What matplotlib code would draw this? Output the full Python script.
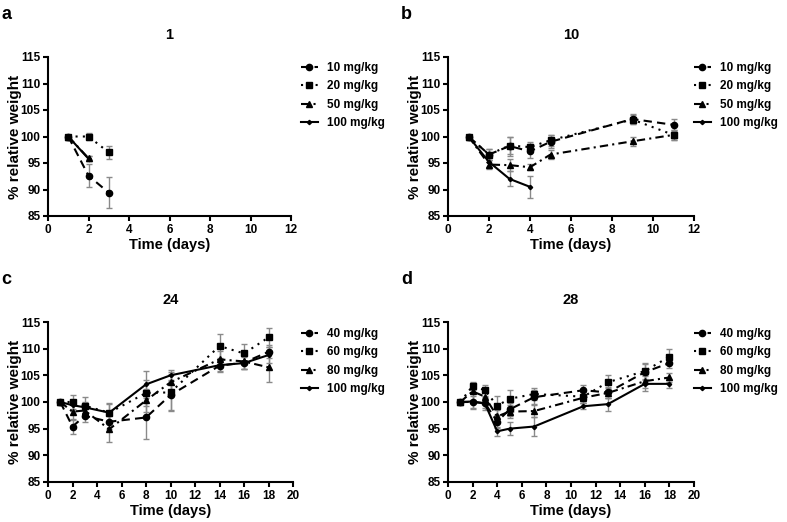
import matplotlib
matplotlib.use("Agg")
import matplotlib.pyplot as plt

plt.rcParams["font.family"] = ["Liberation Sans", "DejaVu Sans"]
plt.rcParams["font.weight"] = "bold"

# panel a: 1
days_a = [1, 2, 3]
a_10 = [100, 92.6, 89.4]
a_10_err = [0, 2.2, 2.9]
a_20 = [100, 100.0, 97.0]
a_20_err = [0, 0.6, 1.2]
days_a50 = [1, 2]
a_50 = [100, 95.9]
a_50_err = [0, 0.5]
a_100 = [100, 95.8]
a_100_err = [0, 0.5]

# panel b: 10
days_b = [1, 2, 3, 4, 5, 9, 11]
b_10 = [100, 96.6, 98.2, 97.2, 99.0, 103.3, 102.2]
b_10_err = [0, 1.1, 1.8, 1.3, 1.2, 1.0, 1.1]
b_20 = [100, 96.6, 98.3, 98.0, 99.3, 103.2, 100.3]
b_20_err = [0, 1.0, 1.6, 1.0, 1.0, 0.9, 0.9]
b_50 = [100, 94.7, 94.6, 94.2, 96.6, 99.1, 100.3]
b_50_err = [0, 0.8, 1.2, 0.6, 0.9, 0.8, 0.9]
days_b100 = [1, 2, 3, 4]
b_100 = [100, 95.2, 92.0, 90.5]
b_100_err = [0, 0.9, 1.4, 2.1]

# panel c: 24
days_c = [1, 2, 3, 5, 8, 10, 14, 16, 18]
c_40 = [100, 95.4, 97.4, 96.3, 97.1, 101.3, 106.8, 107.4, 109.4]
c_40_err = [0, 1.4, 1.2, 1.3, 4.0, 2.8, 1.2, 1.3, 1.2]
c_60 = [100, 100.0, 99.3, 98.0, 101.7, 101.8, 110.5, 109.1, 112.1]
c_60_err = [0, 1.4, 1.7, 1.8, 2.5, 3.5, 2.2, 1.8, 1.8]
c_80 = [100, 98.2, 98.4, 94.9, 100.3, 103.7, 108.0, 107.6, 106.5]
c_80_err = [0, 1.5, 1.2, 2.4, 2.2, 2.0, 1.5, 1.4, 2.7]
c_100 = [100, 99.4, 99.0, 98.0, 103.3, 105.0, 106.9, 107.3, 108.8]
c_100_err = [0, 1.0, 1.0, 1.6, 2.5, 1.0, 1.0, 1.2, 1.5]

# panel d: 28
days_d = [1, 2, 3, 4, 5, 7, 11, 13, 16, 18]
d_40 = [100, 100.0, 99.8, 96.3, 98.6, 100.9, 102.2, 101.8, 105.6, 107.3]
d_40_err = [0, 1.2, 1.0, 1.2, 1.2, 1.3, 1.0, 1.0, 1.5, 1.0]
d_60 = [100, 103.0, 102.2, 99.3, 100.6, 101.5, 101.0, 103.7, 105.8, 108.5]
d_60_err = [0, 0.8, 1.0, 1.8, 1.6, 1.2, 1.2, 1.4, 1.5, 1.4]
d_80 = [100, 102.0, 101.0, 97.3, 98.2, 98.3, 100.8, 101.7, 103.9, 104.6]
d_80_err = [0, 1.6, 1.2, 1.2, 1.2, 1.2, 1.0, 1.0, 1.2, 0.8]
d_100 = [100, 100.1, 99.7, 94.5, 95.0, 95.4, 99.2, 99.6, 103.4, 103.4]
d_100_err = [0, 1.5, 1.2, 0.8, 1.2, 1.7, 0.6, 1.2, 1.4, 0.8]

styles = [
    dict(marker="o", ms=4.5, dashes=(4, 2.5)),
    dict(marker="s", ms=4.5, dashes=(1, 2.5)),
    dict(marker="^", ms=4.5, dashes=(4, 2, 1, 2)),
    dict(marker="D", ms=2.2, dashes=None),
]

fig = plt.figure(figsize=(7.87, 5.22), dpi=100)
W, H = 787, 522


def make_ax(x0, y0, x1, y1):
    return fig.add_axes([x0 / W, 1 - y1 / H, (x1 - x0) / W, (y1 - y0) / H])


def draw(ax, series, labels, xmax, title, letter, leg_x, leg_y):
    for (x, y, e), lab, st in zip(series, labels, styles):
        line, caps, bars = ax.errorbar(x, y, yerr=e, color="black", ecolor="#8a8a8a",
                                       elinewidth=1, capsize=2.5, capthick=1, lw=1.5,
                                       marker=st["marker"], ms=st["ms"], label=lab)
        if st["dashes"]:
            line.set_dashes(st["dashes"])
    ax.set_xlim(0, xmax)
    ax.set_ylim(85, 115)
    ax.set_xticks(range(0, xmax + 1, 2))
    ax.set_yticks(range(85, 116, 5))
    for s in ["top", "right"]:
        ax.spines[s].set_visible(False)
    for s in ["left", "bottom"]:
        ax.spines[s].set_linewidth(1.5)
    ax.tick_params(width=1.5, length=3.5, labelsize=8.5, pad=2)
    for t in ax.get_xticklabels() + ax.get_yticklabels():
        t.set_fontweight("bold")
    ax.set_xlabel("Time (days)", fontsize=10.5, fontweight="bold", labelpad=2)
    ax.set_ylabel("% relative weight", fontsize=11, fontweight="bold", labelpad=-1)
    ax.set_title(title, fontsize=10.5, fontweight="bold", pad=13)
    ax.text(-0.19, 1.32, letter, transform=ax.transAxes, fontsize=13,
            fontweight="bold", va="top", ha="left")
    handles, labs = ax.get_legend_handles_labels()
    handles = [h[0] for h in handles]
    # legend text starts at leg_x px, first row top at leg_y px
    ax.legend(handles, labs, loc="upper left",
              bbox_to_anchor=((leg_x - 26) / W, 1 - leg_y / H),
              bbox_transform=fig.transFigure, borderaxespad=0, borderpad=0,
              frameon=False, handlelength=1.4, handletextpad=0.8,
              labelspacing=0.55, prop=dict(weight="bold", size=8.5))


ax_a = make_ax(48, 57, 291, 216)
draw(ax_a, [(days_a, a_10, a_10_err), (days_a, a_20, a_20_err),
            (days_a50, a_50, a_50_err), (days_a50, a_100, a_100_err)],
     ["10 mg/kg", "20 mg/kg", "50 mg/kg", "100 mg/kg"], 12, "1", "a", 327, 62)

ax_b = make_ax(448, 57, 694, 216)
draw(ax_b, [(days_b, b_10, b_10_err), (days_b, b_20, b_20_err),
            (days_b, b_50, b_50_err), (days_b100, b_100, b_100_err)],
     ["10 mg/kg", "20 mg/kg", "50 mg/kg", "100 mg/kg"], 12, "10", "b", 720, 62)

ax_c = make_ax(48, 322, 293, 482)
draw(ax_c, [(days_c, c_40, c_40_err), (days_c, c_60, c_60_err),
            (days_c, c_80, c_80_err), (days_c, c_100, c_100_err)],
     ["40 mg/kg", "60 mg/kg", "80 mg/kg", "100 mg/kg"], 20, "24", "c", 327, 328)

ax_d = make_ax(448, 322, 694, 482)
draw(ax_d, [(days_d, d_40, d_40_err), (days_d, d_60, d_60_err),
            (days_d, d_80, d_80_err), (days_d, d_100, d_100_err)],
     ["40 mg/kg", "60 mg/kg", "80 mg/kg", "100 mg/kg"], 20, "28", "d", 720, 328)

fig.savefig("out.png", dpi=100)
